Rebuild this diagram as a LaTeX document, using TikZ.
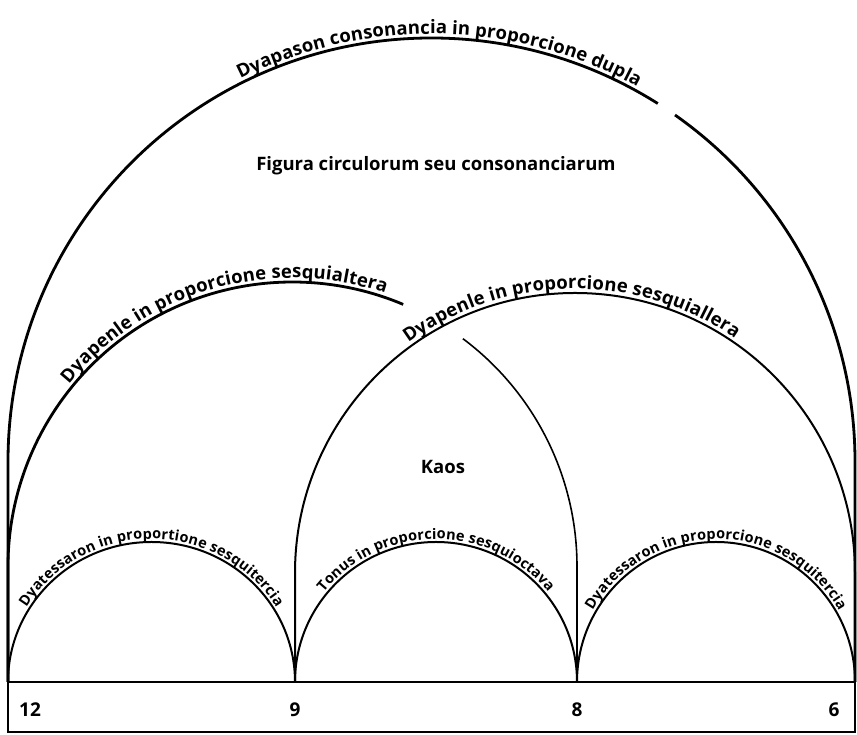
\documentclass[tikz,border=0pt]{standalone}
\usepackage{fontspec}
\setmainfont{Open Sans}
\usetikzlibrary{decorations.text}
\newcommand\arcbigfont{\bfseries\fontsize{18.5}{20}\selectfont}
\newcommand\arcsmallfont{\bfseries\fontsize{14.5}{16}\selectfont}
\begin{document}
\begin{tikzpicture}[x=1pt,y=1pt,
  heavy/.style={line width=2.8pt},
  medium/.style={line width=2pt},
  light/.style={line width=1.6pt},
  plainlabel/.style={font=\bfseries\fontsize{18.5}{20}\selectfont, inner sep=0pt},
  numlabel/.style={font=\bfseries\fontsize{19}{20}\selectfont, inner sep=0pt},
  arclabel/.style={decorate, decoration={text along path, text align=center, raise=#1}},
  arclabel/.default=4pt]
\useasboundingbox (0,0) rectangle (857,735);

% outer arc (Dyapason), with a small gap on the right
\draw[heavy] (8,53) -- (8,273.5) arc[start angle=180, end angle=57.7, radius=423.5];
\draw[heavy] (431.5,273.5) ++(54.9:423.5) arc[start angle=54.9, end angle=0, radius=423.5] -- (855,53);

% left Dyapente (12 to 8), interrupted
\draw[heavy] (8,53) -- (8,168.5) arc[start angle=180, end angle=67.1, radius=284.5];
\draw[light] (292.5,168.5) ++(53.2:284.5) arc[start angle=53.2, end angle=0, radius=284.5] -- (577,53);

% right Dyapente (9 to 6)
\draw[medium] (295,53) -- (295,162) arc[start angle=180, end angle=0, radius=280] -- (855,53);

% small arcs
\draw[medium] (8,53) arc[start angle=180, end angle=0, x radius=143.5, y radius=140];
\draw[medium] (295,53) arc[start angle=180, end angle=0, x radius=141, y radius=140];
\draw[medium] (577,53) arc[start angle=180, end angle=0, x radius=139, y radius=140];

% bottom box
\draw[medium] (8,3) rectangle (855,53);

% numbers
\node[numlabel] (n12) at (30,25) {12};
\node[numlabel] (n9) at (295,25) {9};
\node[numlabel] (n8) at (577,25) {8};
\node[numlabel] (n6) at (834,25) {6};

% plain labels
\node[plainlabel] (figura) at (436,569) {Figura circulorum seu consonanciarum};
\node[plainlabel] (kaos) at (443,268) {Kaos};

% labels along arcs
\path[arclabel=4pt, decoration={text={|\arcbigfont|Dyapason consonancia in proporcione dupla}}]
  (431.5,273.5) ++(150:423.5) arc[start angle=150, end angle=27.8, radius=423.5];
\path[arclabel=4pt, decoration={text={|\arcbigfont|Dyapenle in proporcione sesquialtera}}]
  (292.5,168.5) ++(176:284.5) arc[start angle=176, end angle=36, radius=284.5];
\path[arclabel=4pt, decoration={text={|\arcbigfont|Dyapenle in proporcione sesquiallera}}]
  (575,162) ++(160:280) arc[start angle=160, end angle=21.6, radius=280];
\path[arclabel=3pt, decoration={text={|\arcsmallfont|Dyatessaron in proportione sesquitercia}}]
  (151.5,53) ++(175:143.5 and 140) arc[start angle=175, end angle=5, x radius=143.5, y radius=140];
\path[arclabel=3pt, decoration={text={|\arcsmallfont|Tonus in proporcione sesquioctava}}]
  (436,53) ++(175:141 and 140) arc[start angle=175, end angle=5, x radius=141, y radius=140];
\path[arclabel=3pt, decoration={text={|\arcsmallfont|Dyatessaron in proporcione sesquitercia}}]
  (716,53) ++(175:139 and 140) arc[start angle=175, end angle=5, x radius=139, y radius=140];
\end{tikzpicture}
\end{document}
